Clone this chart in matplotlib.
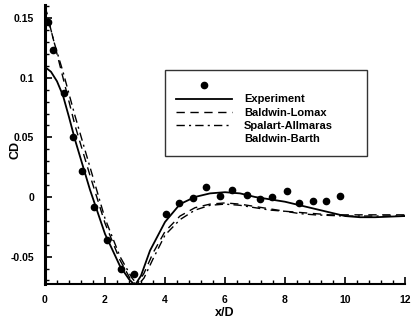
import numpy as np
import matplotlib
matplotlib.use('Agg')
import matplotlib.pyplot as plt
from matplotlib.ticker import MultipleLocator
from matplotlib.lines import Line2D

# experiment points
exp_x = [0.1, 0.25, 0.62, 0.92, 1.22, 1.62, 2.08, 2.52, 2.98, 4.02, 4.48, 4.92, 5.38, 5.82,
         6.25, 6.72, 7.15, 7.58, 8.05, 8.48, 8.92, 9.38, 9.82]
exp_y = [0.147, 0.123, 0.087, 0.050, 0.022, -0.008, -0.036, -0.060, -0.065, -0.014, -0.005,
         -0.001, 0.008, 0.001, 0.006, 0.002, -0.002, 0.000, 0.005, -0.005, -0.003, -0.003, 0.001]

# solid curve
sol_x = [0.05, 0.2, 0.4, 0.6, 0.8, 1.0, 1.5, 2.0, 2.5, 2.8, 3.0, 3.2, 3.5, 4.0, 4.5, 5.0,
         5.5, 6.0, 6.5, 7.0, 7.5, 8.0, 8.5, 9.0, 9.5, 10.0, 10.5, 11.0, 12.0]
sol_y = [0.108, 0.105, 0.097, 0.085, 0.067, 0.048, 0.006, -0.031, -0.058, -0.069, -0.074,
         -0.066, -0.045, -0.021, -0.006, 0.000, 0.003, 0.004, 0.003, 0.000, -0.002, -0.004,
         -0.007, -0.010, -0.013, -0.016, -0.017, -0.017, -0.016]

# dashed curve
das_x = [0.0, 0.2, 0.4, 0.6, 1.0, 1.5, 2.0, 2.5, 2.85, 3.05, 3.3, 3.6, 4.0, 4.5, 5.0, 5.5,
         6.0, 6.5, 7.0, 7.5, 8.0, 8.5, 9.0, 9.5, 10.0, 11.0, 12.0]
das_y = [0.160, 0.140, 0.120, 0.100, 0.060, 0.018, -0.022, -0.053, -0.069, -0.074, -0.064,
         -0.047, -0.029, -0.016, -0.009, -0.006, -0.005, -0.006, -0.008, -0.010, -0.012,
         -0.013, -0.014, -0.015, -0.015, -0.015, -0.015]

# dash-dot curve
dd_x = [0.0, 0.3, 0.6, 1.0, 1.5, 2.0, 2.5, 2.9, 3.1, 3.3, 3.6, 4.0, 4.5, 5.0, 5.5, 6.0,
        6.5, 7.0, 7.5, 8.0, 8.5, 9.0, 10.0, 11.0, 12.0]
dd_y = [0.160, 0.130, 0.105, 0.068, 0.025, -0.018, -0.050, -0.068, -0.074, -0.068, -0.052,
        -0.032, -0.019, -0.011, -0.007, -0.006, -0.007, -0.009, -0.011, -0.012, -0.014,
        -0.015, -0.016, -0.016, -0.016]

yticks = [-0.05, 0, 0.05, 0.1, 0.15]
ytick_labels = ['-0.05', '0', '0.05', '0.1', '0.15']
xticks = [0, 2, 4, 6, 8, 10, 12]

plt.rcParams['font.family'] = ['Liberation Sans', 'DejaVu Sans']
plt.rcParams['font.weight'] = 'bold'

fig = plt.figure(figsize=(4.12, 3.22), dpi=100)
ax = fig.add_axes([45 / 412, 1 - 284 / 322, 360 / 412, 279 / 322])

ax.plot(sol_x, sol_y, color='black', lw=1.3, ls='-')
ax.plot(das_x, das_y, color='black', lw=1.0, ls=(0, (6, 4)))
ax.plot(dd_x, dd_y, color='black', lw=1.0, ls=(0, (6, 3, 1.5, 3)))
ax.plot(exp_x, exp_y, 'o', color='black', ms=4.5)

ax.set_xlim(0, 12)
ax.set_ylim(-0.073, 0.161)
ax.set_xticks(xticks)
ax.set_yticks(yticks)
ax.set_yticklabels(ytick_labels)
ax.xaxis.set_minor_locator(MultipleLocator(0.4))
ax.yaxis.set_minor_locator(MultipleLocator(0.01))
ax.tick_params(which='both', direction='in', top=False, right=False, labelsize=7.5, pad=8)
ax.tick_params(which='major', length=5, width=1.2)
ax.tick_params(which='minor', length=3, width=1.0)

for s in ['top', 'right']:
    ax.spines[s].set_visible(False)
ax.spines['left'].set_linewidth(2.2)
ax.spines['bottom'].set_linewidth(1.5)

ax.set_xlabel('x/D', fontsize=9, fontweight='bold', labelpad=1)
ax.set_ylabel('CD', fontsize=9, fontweight='bold')
ax.yaxis.set_label_coords(-0.065, 0.48)

handles = [
    Line2D([], [], marker='o', color='black', ls='none', ms=4.5),
    Line2D([], [], color='black', lw=1.3),
    Line2D([], [], color='black', lw=1.0, ls=(0, (6, 4))),
    Line2D([], [], color='black', lw=1.0, ls=(0, (6, 3, 1.5, 3))),
    Line2D([], [], color='none'),
]
labels = ['', 'Experiment', 'Baldwin-Lomax', 'Spalart-Allmaras', 'Baldwin-Barth']
leg = ax.legend(handles, labels, loc='upper left', bbox_to_anchor=(0.333, 0.467, 0.561, 0.3),
                mode='expand', fontsize=8, frameon=True, fancybox=False, edgecolor='black',
                handlelength=5.0, labelspacing=0.3, borderpad=1.0, handletextpad=1.1,
                borderaxespad=0)
leg.get_frame().set_linewidth(1.0)

fig.savefig('out.png', dpi=100)
